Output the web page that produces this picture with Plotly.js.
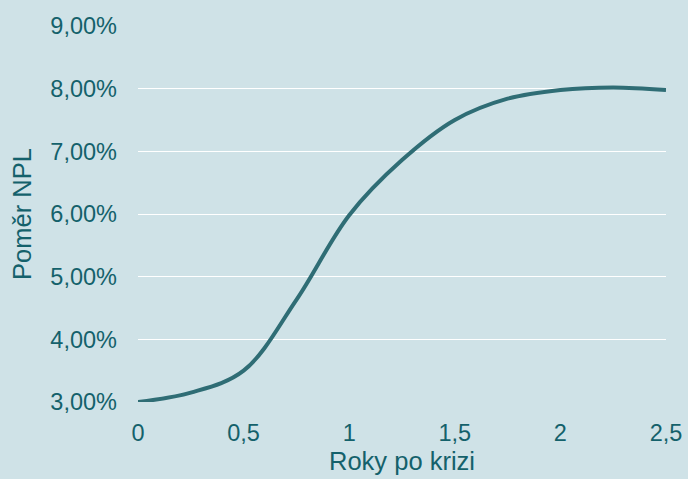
<!DOCTYPE html>
<html>
<head>
<meta charset="utf-8">
<script src="https://cdn.plot.ly/plotly-3.0.1.min.js"></script>
<style>html,body{margin:0;padding:0;background:#cfe2e7;}</style>
</head>
<body>
<div id="chart" style="width:688px;height:479px;"></div>
<script>
const years = [0, 0.25, 0.5, 0.75, 1, 1.25, 1.5, 1.75, 2, 2.25, 2.5];
const nplRatio = [3.0, 3.15, 3.5, 4.63, 5.98, 6.86, 7.5, 7.84, 7.98, 8.02, 7.98];
const xTicks = [0, 0.5, 1, 1.5, 2, 2.5];
const xTickText = ['0', '0,5', '1', '1,5', '2', '2,5'];
const yTicks = [3, 4, 5, 6, 7, 8, 9];
const yTickText = ['3,00%', '4,00%', '5,00%', '6,00%', '7,00%', '8,00%', '9,00%'];
const textColor = '#14616b';

Plotly.newPlot('chart', [{
  x: years, y: nplRatio, type: 'scatter', mode: 'lines',
  line: {color: '#2f6d75', width: 4, shape: 'spline', smoothing: 1},
  hoverinfo: 'skip'
}], {
  width: 688, height: 479,
  paper_bgcolor: '#cfe2e7', plot_bgcolor: '#cfe2e7',
  margin: {l: 138, r: 22, t: 26, b: 77},
  font: {family: 'Liberation Sans, Arial, sans-serif', size: 23.5, color: textColor},
  showlegend: false,
  xaxis: {
    range: [0, 2.5], tickvals: xTicks, ticktext: xTickText, showgrid: false, zeroline: false, showline: false,
    ticks: '', ticklabelstandoff: 14,
    title: {text: 'Roky po krizi', standoff: 7, font: {size: 25.5, color: textColor}}
  },
  yaxis: {
    range: [3, 9], tickvals: yTicks, ticktext: yTickText,
    showgrid: true, gridcolor: '#ffffff', gridwidth: 1, zeroline: false, showline: false,
    ticks: '', ticklabelstandoff: 20,
    title: {text: 'Poměr NPL', standoff: 11, font: {size: 25.5, color: textColor}}
  }
}, {displayModeBar: false, staticPlot: true});
</script>
</body>
</html>
